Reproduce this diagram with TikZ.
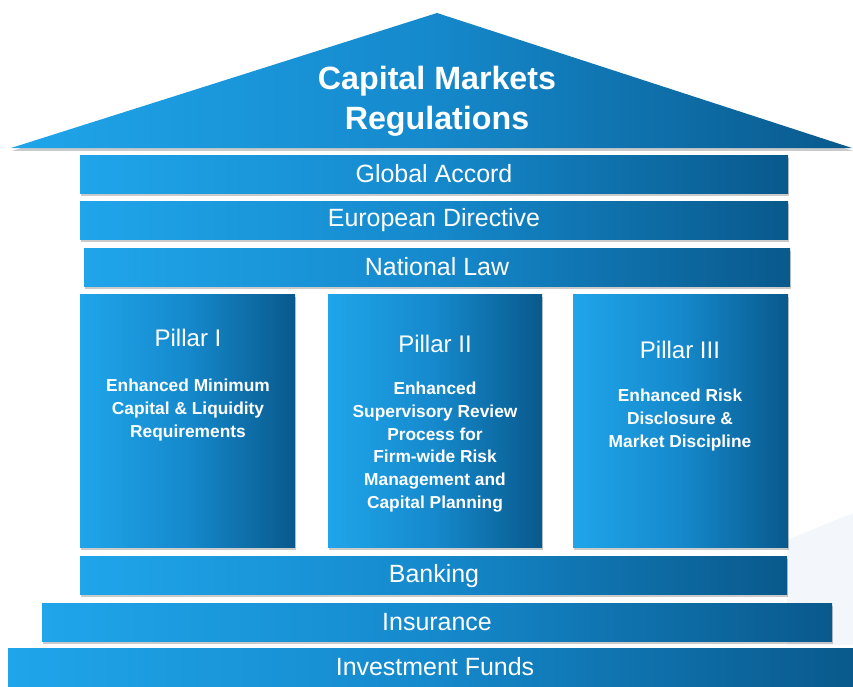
\documentclass[tikz,border=0pt]{standalone}
\usepackage{fontspec}
\setmainfont{Liberation Sans}
\usetikzlibrary{shadows}

\definecolor{slablight}{HTML}{20A5EA}
\definecolor{slabmid}{HTML}{1589CC}
\definecolor{slabdark}{HTML}{09598C}
\definecolor{swoosh}{HTML}{F3F6FA}

\tikzset{
  slab/.style={left color=slablight, right color=slabdark, middle color=slabmid,
    drop shadow={shadow xshift=0.8pt, shadow yshift=-2.5pt, opacity=0.35, fill=black!60}},
  slabtext/.style={text=white, inner sep=0pt, font=\fontsize{21.3}{25}\selectfont},
  rooftext/.style={text=white, inner sep=0pt, align=center, font=\bfseries\fontsize{27.5}{34}\selectfont},
  pillartitle/.style={text=white, inner sep=0pt, font=\fontsize{20.5}{24}\selectfont},
  pillartext/.style={text=white, inner sep=0pt, align=center, font=\bfseries\fontsize{14.8}{19.4}\selectfont}
}

\begin{document}
\begin{tikzpicture}[x=0.03cm, y=-0.03cm]
  \useasboundingbox (0,0) rectangle (853,686);
  % faint background swoosh
  \fill[swoosh] (787,540) -- (853,513) -- (853,645) -- (787,645) -- cycle;

  % roof
  \path[slab] (11,148) -- (437,13) -- (852,148) -- cycle;
  \node[rooftext] (roof) at (437,101) {Capital Markets\\Regulations};

  % upper slabs
  \path[slab] (80,155) rectangle (788,193);
  \node[slabtext] (global) at (434,174) {Global Accord};
  \path[slab] (80,201) rectangle (788,239);
  \node[slabtext] (europe) at (434,220) {European Directive};
  \path[slab] (84,248) rectangle (790,286);
  \node[slabtext] (national) at (437,267) {National Law};

  % pillars
  \path[slab] (80,294) rectangle (295,547);
  \node[pillartitle] (p1title) at (188,338) {Pillar I};
  \node[pillartext] (p1text) at (188,410) {Enhanced Minimum\\Capital \& Liquidity\\Requirements};

  \path[slab] (328,294) rectangle (542,547);
  \node[pillartitle] (p2title) at (435,344) {Pillar II};
  \node[pillartext] (p2text) at (435,447) {Enhanced\\Supervisory Review\\Process for\\Firm-wide Risk\\Management and\\Capital Planning};

  \path[slab] (573,294) rectangle (788,547);
  \node[pillartitle] (p3title) at (680,350) {Pillar III};
  \node[pillartext] (p3text) at (680,420) {Enhanced Risk\\Disclosure \&\\Market Discipline};

  % base steps
  \path[slab] (80,556) rectangle (787,594);
  \node[slabtext] (banking) at (434,576) {Banking};
  \path[slab] (42,603) rectangle (832,641);
  \node[slabtext] (insurance) at (437,622) {Insurance};
  \path[slab] (8,648) rectangle (853,690);
  \node[slabtext] (funds) at (435,667) {Investment Funds};
\end{tikzpicture}
\end{document}
